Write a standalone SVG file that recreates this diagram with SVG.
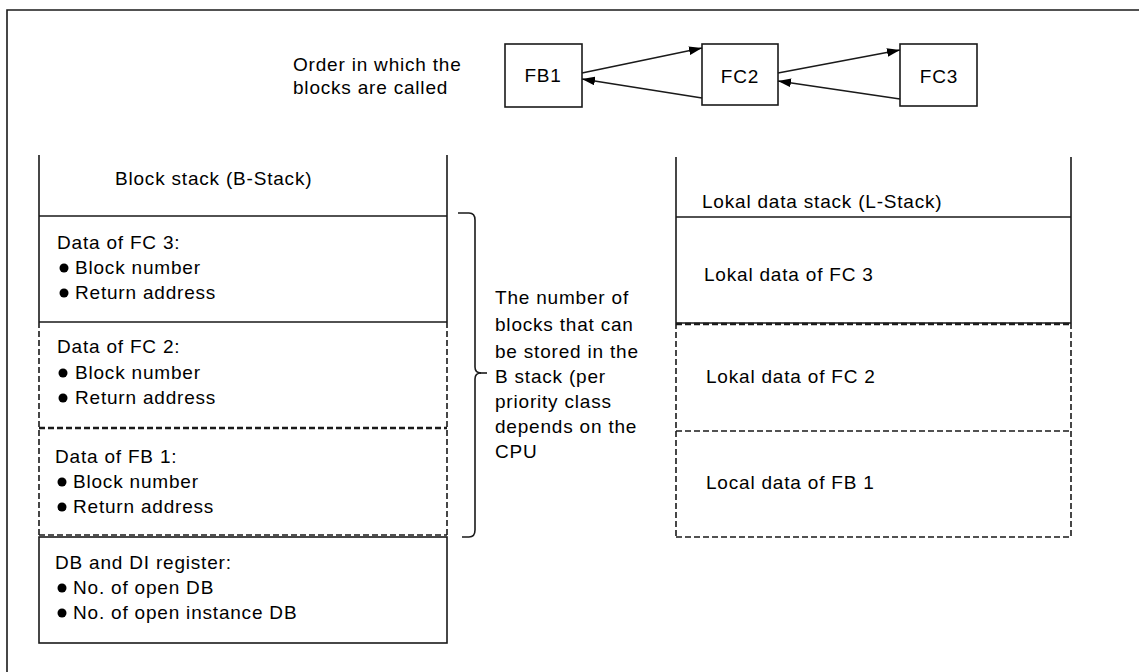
<svg xmlns="http://www.w3.org/2000/svg" width="1139" height="672" viewBox="0 0 1139 672">
<defs>
<style>
text{font-family:"Liberation Sans",Arial,sans-serif;font-size:19px;fill:#000;letter-spacing:0.8px}
.s{fill:none;stroke:#1a1a1a;stroke-width:1.6}
.d{fill:none;stroke:#1a1a1a;stroke-width:1.6;stroke-dasharray:6 3}
.dd{fill:none;stroke:#1a1a1a;stroke-width:2.4;stroke-dasharray:6 3}
.c{fill:none;stroke:#1a1a1a;stroke-width:1.6}
.b{fill:#000}
.box{fill:#fff;stroke:#1a1a1a;stroke-width:1.6}
</style>
<marker id="ah" viewBox="0 0 12 8" refX="12" refY="4" markerWidth="13" markerHeight="9" markerUnits="userSpaceOnUse" orient="auto">
<path d="M0,0 L12,4 L0,8 Z" fill="#000"/>
</marker>
</defs>
<rect width="1139" height="672" fill="#fff"/>
<path class="s" d="M7,672 V10 H1139" stroke-width="2"/>

<g id="caption">
<text x="293" y="71">Order in which the</text>
<text x="293" y="94">blocks are called</text>
</g>

<g id="FB1"><rect class="box" x="505" y="44" width="77" height="63"/><text x="543" y="82" text-anchor="middle">FB1</text></g>
<g id="FC2"><rect class="box" x="702" y="44" width="76" height="61"/><text x="740" y="83" text-anchor="middle">FC2</text></g>
<g id="FC3"><rect class="box" x="900" y="44" width="77" height="62"/><text x="939" y="83" text-anchor="middle">FC3</text></g>

<g id="connectors">
<line class="c" x1="582" y1="73" x2="702" y2="48" marker-end="url(#ah)"/>
<line class="c" x1="702" y1="98" x2="582" y2="79" marker-end="url(#ah)"/>
<line class="c" x1="778" y1="73" x2="900" y2="50" marker-end="url(#ah)"/>
<line class="c" x1="900" y1="99" x2="778" y2="81" marker-end="url(#ah)"/>
</g>

<g id="b-stack">
<path class="s" d="M39,155 V322 M447,155 V322 M39,216 H447 M39,322 H447"/>
<path class="d" d="M39,322 V535 M447,322 V535 M39,535 H447"/>
<path class="dd" d="M39,428 H447"/>
<text x="115" y="185">Block stack (B-Stack)</text>
</g>

<g id="b-fc3">
<text x="57" y="249">Data of FC 3:</text>
<circle class="b" cx="64" cy="268" r="4.5"/><text x="75" y="274">Block number</text>
<circle class="b" cx="64" cy="293" r="4.5"/><text x="75" y="299">Return address</text>
</g>
<g id="b-fc2">
<text x="57" y="353">Data of FC 2:</text>
<circle class="b" cx="63" cy="373" r="4.5"/><text x="75" y="379">Block number</text>
<circle class="b" cx="63" cy="398" r="4.5"/><text x="75" y="404">Return address</text>
</g>
<g id="b-fb1">
<text x="55" y="463">Data of FB 1:</text>
<circle class="b" cx="62" cy="482" r="4.5"/><text x="73" y="488">Block number</text>
<circle class="b" cx="62" cy="507" r="4.5"/><text x="73" y="513">Return address</text>
</g>
<g id="b-db">
<rect class="box" x="39" y="537" width="408" height="106"/>
<text x="55" y="569">DB and DI register:</text>
<circle class="b" cx="62" cy="588" r="4.5"/><text x="73" y="594">No. of open DB</text>
<circle class="b" cx="62" cy="613" r="4.5"/><text x="73" y="619">No. of open instance DB</text>
</g>

<g id="brace">
<path class="s" d="M458,213 H469 Q475,213 475,220 V367 Q475,373 481,373 Q475,373 475,379 V530 Q475,537 469,537 H462"/>
<path class="s" d="M480,373 H487" stroke-width="2.4"/>
<text x="495" y="304">The number of</text>
<text x="495" y="331">blocks that can</text>
<text x="495" y="358">be stored in the</text>
<text x="495" y="383">B stack (per</text>
<text x="495" y="408">priority class</text>
<text x="495" y="433">depends on the</text>
<text x="495" y="458">CPU</text>
</g>

<g id="l-stack">
<path class="s" d="M676,157 V323 M1071,157 V323 M676,217 H1071 M676,323 H1071"/>
<path class="d" d="M676,323 V537 M1071,323 V537 M676,431 H1071 M676,537 H1071"/>
<path class="dd" d="M676,324 H1071" stroke-width="1.2"/>
<text x="702" y="208">Lokal data stack (L-Stack)</text>
</g>
<g id="l-fc3"><text x="704" y="281">Lokal data of FC 3</text></g>
<g id="l-fc2"><text x="706" y="383">Lokal data of FC 2</text></g>
<g id="l-fb1"><text x="706" y="489">Local data of FB 1</text></g>
</svg>
